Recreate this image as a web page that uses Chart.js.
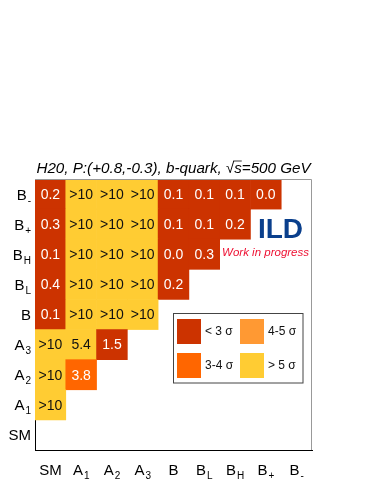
<!doctype html>
<html>
    <head>
        <meta charset="UTF-8" />
        <script src="https://cdn.jsdelivr.net/npm/chart.js"></script>
        <style>
            html, body { margin: 0; padding: 0; background: #fff; }
            canvas { display: block; }
        </style>
    </head>
    <body>
        <canvas id="sigChart" width="374" height="484"></canvas>
        <script>
            // axis categories (same order for rows and columns, bottom -> top)
            const catNames = ["SM", "A", "A", "A", "B", "B", "B", "B", "B"];
            const catSubs = ["", "1", "2", "3", "", "L", "H", "+", "-"];

            // significance per row, values read left -> right from SM
            const rowSM = [];
            const rowA1 = [">10"];
            const rowA2 = [">10", "3.8"];
            const rowA3 = [">10", "5.4", "1.5"];
            const rowB = ["0.1", ">10", ">10", ">10"];
            const rowBL = ["0.4", ">10", ">10", ">10", "0.2"];
            const rowBH = ["0.1", ">10", ">10", ">10", "0.0", "0.3"];
            const rowBplus = ["0.3", ">10", ">10", ">10", "0.1", "0.1", "0.2"];
            const rowBminus = ["0.2", ">10", ">10", ">10", "0.1", "0.1", "0.1", "0.0"];

            const legendLabels = ["< 3 σ", "3-4 σ", "4-5 σ", "> 5 σ"];
            const legendColors = ["#cc3300", "#ff6600", "#ff9933", "#ffcc33"];

            const rows = [rowSM, rowA1, rowA2, rowA3, rowB, rowBL, rowBH, rowBplus, rowBminus];
            const FONT = "'Liberation Sans', Arial, sans-serif";

            const sigColor = (v) => {
                const n = v === ">10" ? 99 : parseFloat(v);
                if (n >= 5) return legendColors[3];
                if (n >= 4) return legendColors[2];
                if (n >= 3) return legendColors[1];
                return legendColors[0];
            };

            const datasets = rows.map((row, r) => ({
                label: catNames[r] + catSubs[r],
                data: catNames.map((_, c) => (c < row.length ? [r - 0.5, r + 0.5] : null)),
                backgroundColor: catNames.map((_, c) => (c < row.length ? sigColor(row[c]) : "transparent")),
                borderWidth: 0,
                barPercentage: 1,
                categoryPercentage: 1,
                grouped: false,
            }));

            const drawLabel = (ctx, x, y, main, sub, align) => {
                ctx.font = "15px " + FONT;
                const wm = ctx.measureText(main).width;
                ctx.font = "10px " + FONT;
                const ws = sub ? ctx.measureText(sub).width + 1 : 0;
                let x0 = align === "right" ? x - wm - ws : x - (wm + ws) / 2;
                ctx.textAlign = "left";
                ctx.textBaseline = "alphabetic";
                ctx.fillStyle = "#000";
                ctx.font = "15px " + FONT;
                ctx.fillText(main, x0, y);
                if (sub) {
                    ctx.font = "10px " + FONT;
                    ctx.fillText(sub, x0 + wm + 1, y + 4);
                }
            };

            const decor = {
                id: "decor",
                afterDatasetsDraw(chart) {
                    const ctx = chart.ctx;
                    ctx.save();
                    ctx.font = "14px " + FONT;
                    ctx.textAlign = "center";
                    ctx.textBaseline = "middle";
                    chart.data.datasets.forEach((ds, r) => {
                        const meta = chart.getDatasetMeta(r);
                        rows[r].forEach((v, c) => {
                            const bar = meta.data[c];
                            const col = sigColor(v);
                            ctx.fillStyle = col === legendColors[3] ? "#111" : "#fff";
                            ctx.fillText(v, bar.x, (bar.y + bar.base) / 2 + 1);
                        });
                    });
                    ctx.restore();
                },
                afterDraw(chart) {
                    const ctx = chart.ctx;
                    const a = chart.chartArea;
                    const xs = chart.scales.x;
                    const ys = chart.scales.y;
                    ctx.save();

                    // grey frame on top and right
                    ctx.strokeStyle = "#999";
                    ctx.lineWidth = 1;
                    ctx.beginPath();
                    ctx.moveTo(a.left, a.top + 0.5);
                    ctx.lineTo(a.right - 0.5, a.top + 0.5);
                    ctx.lineTo(a.right - 0.5, a.bottom);
                    ctx.stroke();

                    // tick labels with subscripts
                    catNames.forEach((name, i) => {
                        drawLabel(ctx, xs.getPixelForValue(i), 475, name, catSubs[i], "center");
                        drawLabel(ctx, 31, ys.getPixelForValue(i) + 5.5, name, catSubs[i], "right");
                    });

                    // title with sqrt(s)
                    const tf = "italic 15.2px " + FONT;
                    ctx.fillStyle = "#000";
                    ctx.textBaseline = "alphabetic";
                    ctx.textAlign = "left";
                    const t1 = "H20, P:(+0.8,-0.3), b-quark, ";
                    const t2 = "s=500 GeV";
                    ctx.font = "15px " + FONT;
                    const wr = ctx.measureText("√").width;
                    ctx.font = tf;
                    const w1 = ctx.measureText(t1).width;
                    const ws = ctx.measureText("s").width;
                    const w2 = ctx.measureText(t2).width;
                    let tx = (a.left + a.right) / 2 - (w1 + wr + w2) / 2;
                    const ty = 173;
                    ctx.fillText(t1, tx, ty);
                    ctx.font = "15px " + FONT;
                    ctx.fillText("√", tx + w1, ty);
                    ctx.font = tf;
                    ctx.fillText(t2, tx + w1 + wr, ty);
                    ctx.strokeStyle = "#000";
                    ctx.lineWidth = 0.8;
                    ctx.beginPath();
                    ctx.moveTo(tx + w1 + wr - 1, ty - 12);
                    ctx.lineTo(tx + w1 + wr + ws, ty - 12);
                    ctx.stroke();

                    // ILD logo text
                    ctx.font = "bold 28px " + FONT;
                    ctx.fillStyle = "#0a3f8c";
                    ctx.textAlign = "right";
                    ctx.fillText("ILD", 303, 238);
                    ctx.font = "italic 11.5px " + FONT;
                    ctx.fillStyle = "#ee1133";
                    ctx.fillText("Work in progress", 309, 256);

                    // legend box
                    ctx.fillStyle = "#fff";
                    ctx.fillRect(173.5, 313.5, 129.5, 69.5);
                    ctx.strokeStyle = "#444";
                    ctx.lineWidth = 1;
                    ctx.strokeRect(173.5, 313.5, 129.5, 69.5);
                    ctx.textAlign = "left";
                    ctx.textBaseline = "middle";
                    ctx.font = "12px " + FONT;
                    legendLabels.forEach((lab, i) => {
                        const lx = i < 2 ? 177 : 240;
                        const ly = i % 2 === 0 ? 319 : 353;
                        ctx.fillStyle = legendColors[i];
                        ctx.fillRect(lx, ly, 24, 25);
                        ctx.fillStyle = "#111";
                        ctx.fillText(lab, lx + 28, ly + 13);
                    });
                    ctx.restore();
                },
            };

            new Chart(document.getElementById("sigChart"), {
                type: "bar",
                data: { labels: catNames.map((n, i) => n + catSubs[i]), datasets },
                options: {
                    responsive: false,
                    animation: false,
                    layout: { padding: { left: 35, right: 62, top: 179, bottom: 34 } },
                    plugins: { legend: { display: false }, tooltip: { enabled: false } },
                    scales: {
                        x: {
                            offset: true,
                            grid: { display: false, drawTicks: false },
                            ticks: { display: false },
                            border: { color: "#000", width: 1 },
                        },
                        y: {
                            type: "linear",
                            min: -0.5,
                            max: 8.5,
                            grid: { display: false, drawTicks: false },
                            ticks: { display: false },
                            border: { color: "#000", width: 1 },
                        },
                    },
                },
                plugins: [decor],
            });
        </script>
    </body>
</html>
